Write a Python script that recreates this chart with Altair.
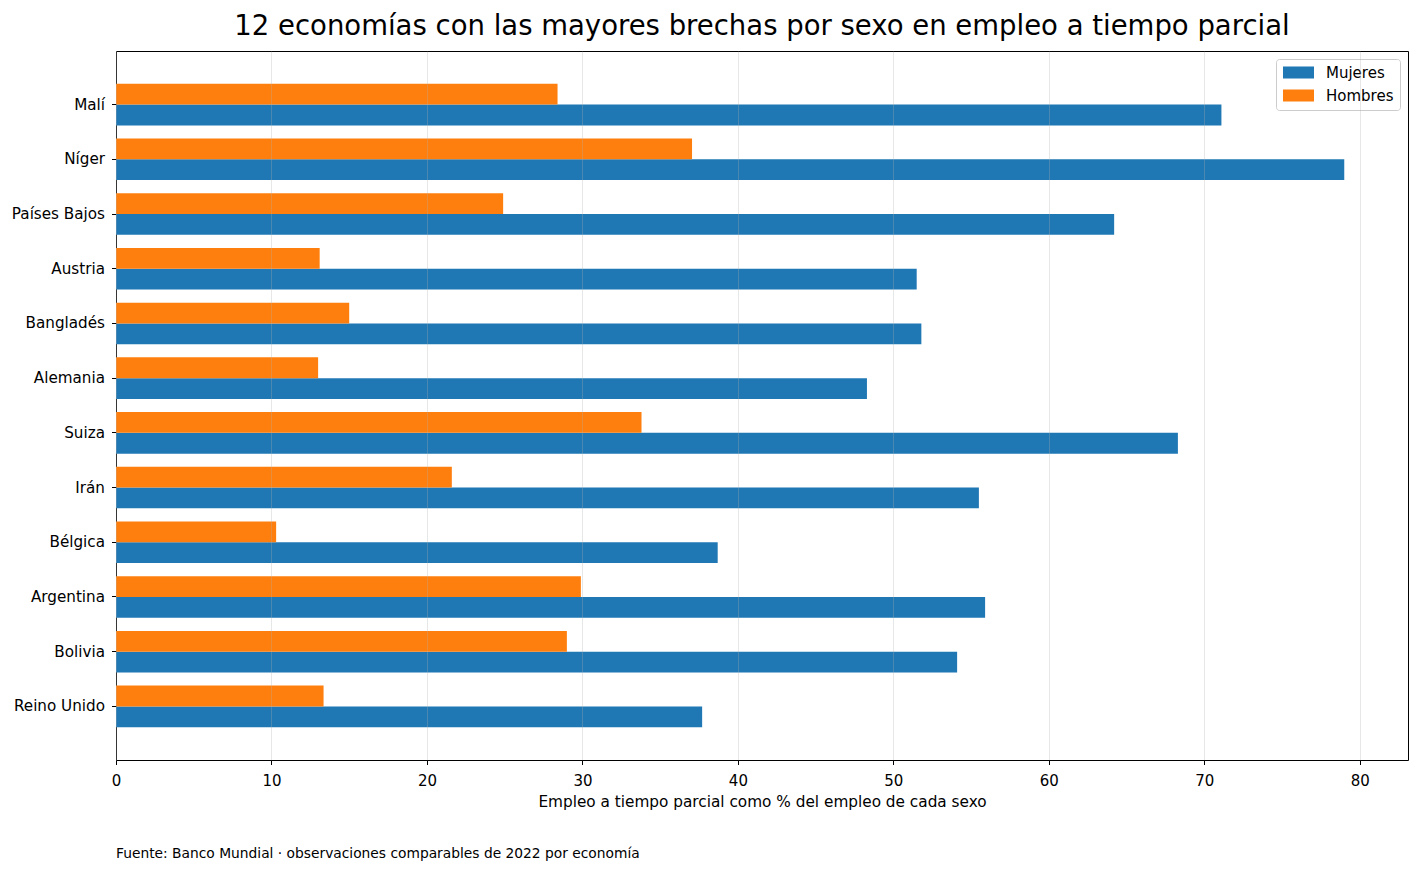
import altair as alt
import pandas as pd

countries = ["Malí", "Níger", "Países Bajos", "Austria", "Bangladés", "Alemania",
             "Suiza", "Irán", "Bélgica", "Argentina", "Bolivia", "Reino Unido"]
mujeres = [71.1, 79.0, 64.2, 51.5, 51.8, 48.3, 68.3, 55.5, 38.7, 55.9, 54.1, 37.7]
hombres = [28.4, 37.05, 24.9, 13.1, 15.0, 13.0, 33.8, 21.6, 10.3, 29.9, 29.0, 13.35]
series = ["Mujeres", "Hombres"]
colors = ["#1f77b4", "#ff7f0e"]

title = "12 economías con las mayores brechas por sexo en empleo a tiempo parcial"
x_title = "Empleo a tiempo parcial como % del empleo de cada sexo"
footer = "Fuente: Banco Mundial · observaciones comparables de 2022 por economía"

rows = []
for c, m, h in zip(countries, mujeres, hombres):
    rows.append({"pais": c, "sexo": "Mujeres", "valor": m})
    rows.append({"pais": c, "sexo": "Hombres", "valor": h})
df = pd.DataFrame(rows)

FONT = "DejaVu Sans"
W, H = 1292, 709

bars = alt.Chart(df).mark_bar(strokeWidth=0).encode(
    y=alt.Y("pais:N", sort=countries, title=None,
            scale=alt.Scale(paddingInner=0.24, paddingOuter=0.6),
            axis=alt.Axis(labelFont=FONT, labelFontSize=15.2, labelColor="black",
                          tickColor="black", tickSize=4.5, tickWidth=1,
                          labelPadding=7, domain=False, grid=False)),
    yOffset=alt.YOffset("sexo:N", sort=["Hombres", "Mujeres"],
                        scale=alt.Scale(paddingInner=0, paddingOuter=0)),
    x=alt.X("valor:Q", title=x_title,
            scale=alt.Scale(domain=[0, 83.1], nice=False, zero=True),
            axis=alt.Axis(values=[0, 10, 20, 30, 40, 50, 60, 70, 80], format="d",
                          labelFont=FONT, labelFontSize=15, labelColor="black",
                          labelFlush=False,
                          titleFont=FONT, titleFontSize=15.3, titleFontWeight="normal",
                          titleColor="black", titlePadding=6,
                          tickColor="black", tickSize=4.5, tickWidth=1, labelPadding=9,
                          domain=False, grid=True, gridColor="#b0b0b0",
                          gridOpacity=0.3, gridWidth=1, zindex=1)),
    color=alt.Color("sexo:N", scale=alt.Scale(domain=series, range=colors),
                    legend=alt.Legend(title=None, orient="top-right", offset=8,
                                      labelFont=FONT, labelFontSize=15,
                                      labelColor="black",
                                      symbolType="M-0.867,-0.8L3.267,-0.8L3.267,0.8L-0.867,0.8Z",
                                      symbolSize=225, symbolStrokeWidth=0,
                                      symbolOpacity=1,
                                      fillColor="white", strokeColor="#cccccc",
                                      padding=6, cornerRadius=3, rowPadding=7,
                                      labelOffset=29)),
)

foot = alt.Chart(pd.DataFrame({"t": [footer]})).mark_text(
    align="left", baseline="middle", font=FONT, fontSize=13.8, color="black"
).encode(x=alt.value(0), y=alt.value(H + 94), text="t:N")

chart = alt.layer(bars, foot).properties(
    width=W, height=H,
    title=alt.TitleParams(title, font=FONT, fontSize=27.5, fontWeight="normal",
                          color="black", anchor="middle", offset=11),
    autosize=alt.AutoSizeParams(type="none"),
    padding={"left": 108, "top": 43, "right": 2, "bottom": 110},
).configure_view(stroke="black", strokeWidth=1)

chart.save("out.html", embed_options={"renderer": "svg", "actions": False})
